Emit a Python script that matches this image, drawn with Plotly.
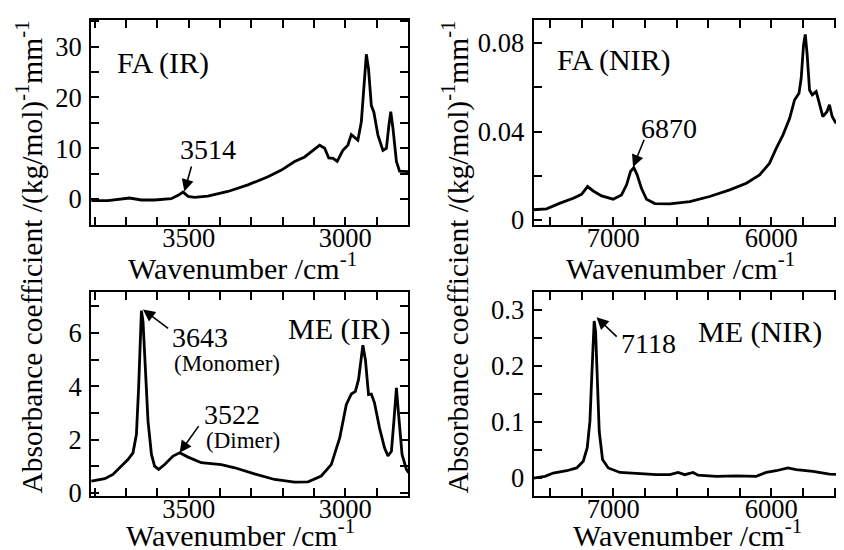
import plotly.graph_objects as go

# ---------------- data ----------------
fa_ir_wn = [3811, 3758, 3689, 3651, 3609, 3556, 3534, 3518, 3502, 3481, 3439, 3375, 3311, 3247,
            3204, 3162, 3130, 3109, 3098, 3082, 3066, 3053, 3039, 3026, 3008, 2992, 2981, 2970,
            2960, 2949, 2941, 2933, 2926, 2917, 2909, 2896, 2880, 2869, 2861, 2855, 2848, 2837,
            2827, 2800]
fa_ir_abs = [-0.31, -0.3, 0.21, -0.18, -0.18, 0.08, 0.73, 1.38, 0.53, 0.34, 0.6, 1.5, 2.8, 4.4,
             5.7, 7.4, 8.3, 9.3, 9.97, 10.6, 10.0, 8.1, 8.0, 7.4, 9.6, 10.6, 12.7, 12.2,
             11.6, 15.2, 23.0, 28.5, 25.6, 18.4, 17.1, 12.6, 9.6, 10.0, 14.5, 17.2, 13.9, 7.4,
             5.5, 5.4]

fa_nir_wn = [7506, 7422, 7337, 7253, 7201, 7163, 7127, 7074, 7001, 6948, 6916, 6891, 6870, 6849,
             6822, 6790, 6737, 6643, 6516, 6390, 6263, 6158, 6074, 6011, 5969, 5926, 5884, 5853,
             5825, 5811, 5796, 5785, 5773, 5758, 5741, 5716, 5699, 5674, 5648, 5632, 5615, 5594,
             5540]
fa_nir_abs = [0.0046, 0.0050, 0.0076, 0.0098, 0.0116, 0.0151, 0.0131, 0.0109, 0.0094, 0.0113,
              0.0159, 0.0219, 0.0237, 0.0204, 0.0143, 0.0094, 0.0074, 0.0073, 0.0083, 0.0106,
              0.0136, 0.0166, 0.0204, 0.0257, 0.0324, 0.0385, 0.0460, 0.0543, 0.0573, 0.0641,
              0.0792, 0.0840, 0.0747, 0.0588, 0.0566, 0.0581, 0.0536, 0.0468, 0.0490, 0.0521,
              0.0468, 0.0442, 0.0442]

me_ir_wn = [3811, 3768, 3742, 3715, 3694, 3678, 3667, 3660, 3655, 3651, 3646, 3639, 3630, 3619,
            3609, 3596, 3577, 3550, 3529, 3502, 3460, 3396, 3353, 3290, 3226, 3162, 3119, 3077,
            3045, 3018, 2997, 2981, 2968, 2958, 2949, 2944, 2936, 2926, 2917, 2907, 2891, 2875,
            2864, 2853, 2845, 2837, 2830, 2819, 2805, 2798]
me_ir_abs = [0.44, 0.53, 0.69, 1.0, 1.25, 1.5, 2.19, 3.94, 5.82, 6.84, 6.44, 4.56, 2.69, 1.44,
             1.0, 0.88, 1.06, 1.38, 1.5, 1.34, 1.13, 1.06, 0.94, 0.71, 0.5, 0.4, 0.41, 0.63,
             1.06, 2.06, 3.31, 3.71, 3.81, 4.25, 5.19, 5.54, 5.0, 3.69, 3.71, 3.38, 2.44, 1.69,
             1.38, 1.56, 2.69, 3.94, 2.94, 1.44, 0.88, 0.75]

me_nir_wn = [7506, 7432, 7380, 7295, 7232, 7190, 7165, 7148, 7135, 7127, 7121, 7112, 7102, 7089,
             7068, 7032, 6958, 6832, 6727, 6642, 6590, 6548, 6495, 6464, 6348, 6221, 6095, 6032,
             5969, 5895, 5842, 5737, 5632, 5540]
me_nir_abs = [0.0, 0.003, 0.009, 0.013, 0.018, 0.030, 0.054, 0.101, 0.190, 0.267, 0.280, 0.261,
              0.172, 0.083, 0.033, 0.018, 0.010, 0.008, 0.006, 0.006, 0.010, 0.006, 0.010, 0.005,
              0.003, 0.004, 0.003, 0.010, 0.013, 0.018, 0.015, 0.012, 0.007, 0.006]

ir_ticks = [3500, 3000]
nir_ticks = [7000, 6000]
fa_ir_yticks = [0, 10, 20, 30]
fa_nir_yticks = [0, 0.04, 0.08]
me_ir_yticks = [0, 2, 4, 6]
me_nir_yticks = [0, 0.1, 0.2, 0.3]

FONT = "Liberation Serif"
TICK = 26.5
W, H = 836, 542   # page body keeps its default 8 px margin

fig = go.Figure()
series = [(fa_ir_wn, fa_ir_abs, 'x', 'y'), (fa_nir_wn, fa_nir_abs, 'x2', 'y2'),
          (me_ir_wn, me_ir_abs, 'x3', 'y3'), (me_nir_wn, me_nir_abs, 'x4', 'y4')]
for xs, ys, xa, ya in series:
    fig.add_trace(go.Scatter(x=xs, y=ys, xaxis=xa, yaxis=ya, mode='lines',
                             line=dict(color='black', width=2.8), showlegend=False,
                             hoverinfo='skip'))

L = [83 / W, 400 / W]
R = [525.5 / W, 1.0]
T = [(H - 217) / H, (H - 12) / H]
B = [(H - 488) / H, (H - 284) / H]


def axis(dom, rng, tv, minor, anchor, standoff):
    return dict(domain=dom, range=rng, tickvals=tv, anchor=anchor, showgrid=False, zeroline=False,
                showline=True, linecolor='black', linewidth=2, mirror='ticks', ticks='inside',
                ticklen=8, tickwidth=2, tickcolor='black', ticklabelstandoff=standoff,
                minor=dict(dtick=minor, tick0=0, ticks='inside', ticklen=8, tickwidth=2,
                           tickcolor='black', showgrid=False),
                tickfont=dict(family=FONT, size=TICK, color='black'))


fig.update_layout(
    template='none',
    width=W, height=H, margin=dict(l=0, r=0, t=0, b=0),
    paper_bgcolor='white', plot_bgcolor='white', showlegend=False,
    font=dict(family=FONT, color='black'),
    xaxis=axis(L, [3812, 2800], ir_ticks, 100, 'y', -12),
    yaxis=axis(T, [-5.1, 35.25], fa_ir_yticks, 5, 'x', 2),
    xaxis2=axis(R, [7505, 5540], nir_ticks, 200, 'y2', -12),
    yaxis2=axis(T, [-0.0023, 0.0905], fa_nir_yticks, 0.02, 'x2', 2),
    xaxis3=axis(L, [3812, 2800], ir_ticks, 100, 'y3', -12),
    yaxis3=axis(B, [-0.12, 7.54], me_ir_yticks, 1, 'x3', 2),
    xaxis4=axis(R, [7505, 5540], nir_ticks, 200, 'y4', -12),
    yaxis4=axis(B, [-0.032, 0.3316], me_nir_yticks, 0.05, 'x4', 2),
)

ann = []
XT = "Wavenumber /cm<sup>-1</sup>"
YT = "Absorbance coefficient /(kg/mol)<sup>-1</sup>mm<sup>-1</sup>"
for xc, yc in [(234, 258.5), (672, 258.5), (232, 525), (679, 525)]:
    ann.append(dict(text=XT, x=xc / W, y=1 - yc / H, xref='paper', yref='paper',
                    showarrow=False, xanchor='center', yanchor='middle',
                    font=dict(family=FONT, size=30, color='black')))
for xc in [22, 448]:
    ann.append(dict(text=YT, x=xc / W, y=1 - 249.5 / H, xref='paper', yref='paper',
                    showarrow=False, textangle=-90, xanchor='center', yanchor='middle',
                    font=dict(family=FONT, size=29.5, color='black')))


def label(t, x, y, xr, yr, size, xanchor='left'):
    ann.append(dict(text=t, x=x, y=y, xref=xr, yref=yr, showarrow=False, xanchor=xanchor,
                    yanchor='middle', font=dict(family=FONT, size=size, color='black')))


def arrow(x, y, ax, ay, xr, yr):
    ann.append(dict(text='', x=x, y=y, ax=ax, ay=ay, xref=xr, yref=yr, axref=xr, ayref=yr,
                    showarrow=True, arrowhead=2, arrowsize=1.5, arrowwidth=1.6,
                    arrowcolor='black'))


label("FA (IR)", 3735, 26.8, 'x', 'y', 30)
label("3514", 3438, 9.8, 'x', 'y', 28, 'center')
arrow(3514, 1.5, 3490, 6.7, 'x', 'y')

label("FA (NIR)", 7369, 0.0724, 'x2', 'y2', 30)
label("6870", 6649, 0.0416, 'x2', 'y2', 28, 'center')
arrow(6875, 0.024, 6801, 0.037, 'x2', 'y2')

label("ME (IR)", 2851, 6.15, 'x3', 'y3', 30, 'right')
label("3643", 3560, 5.82, 'x3', 'y3', 28)
label("(Monomer)", 3553, 4.84, 'x3', 'y3', 23)
arrow(3646, 6.88, 3561, 6.13, 'x3', 'y3')
label("3522", 3458, 2.93, 'x3', 'y3', 28)
label("(Dimer)", 3451, 1.95, 'x3', 'y3', 23)
arrow(3529, 1.5, 3465, 2.56, 'x3', 'y3')

label("ME (NIR)", 5664, 0.2603, 'x4', 'y4', 30, 'right')
label("7118", 6965, 0.2407, 'x4', 'y4', 28)
arrow(7106, 0.2865, 6969, 0.2496, 'x4', 'y4')

fig.update_layout(annotations=ann)
fig.write_html("out.html")
